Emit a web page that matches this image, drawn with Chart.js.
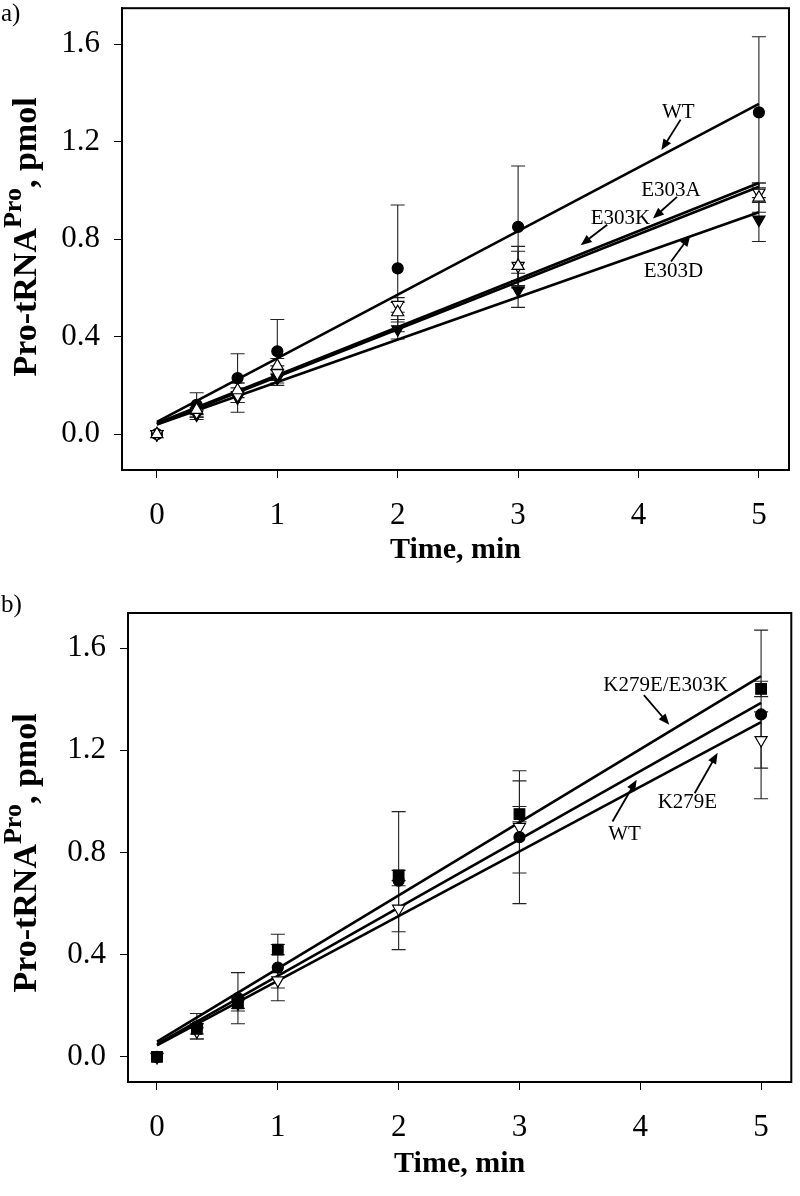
<!DOCTYPE html>
<html><head><meta charset="utf-8">
<script src="https://cdn.jsdelivr.net/npm/chart.js@4"></script>
<style>
html,body{margin:0;padding:0;background:#fff;}
#wrap{position:relative;width:800px;height:1196px;overflow:hidden;}
.box{position:absolute;left:0;width:800px;}
</style></head><body>
<div id="wrap">
<div class="box" style="top:0;height:575px"><canvas id="ca" width="800" height="575"></canvas></div>
<div class="box" style="top:575px;height:621px"><canvas id="cb" width="800" height="621"></canvas></div>
</div>
<script>
// ---------- data ----------
const times = [0, 0.33, 0.67, 1, 2, 3, 5];
const fitX = [0, 5];
const xTicks = [0, 1, 2, 3, 4, 5];
const yTicks = [0, 0.4, 0.8, 1.2, 1.6];

// panel a
const aWT      = [0, 0.12, 0.23, 0.34, 0.68, 0.85, 1.32];
const aWTErr   = [0, 0.05, 0.10, 0.13, 0.26, 0.25, 0.31];
const aE303A   = [0, 0.10, 0.18, 0.28, 0.50, 0.69, 0.97];
const aE303AErr= [0, 0.02, 0.03, 0.03, 0.04, 0.08, 0.06];
const aE303K   = [0, 0.09, 0.16, 0.25, 0.53, 0.69, 0.99];
const aE303KErr= [0, 0.02, 0.03, 0.03, 0.03, 0.06, 0.04];
const aE303D   = [0, 0.08, 0.15, 0.23, 0.43, 0.59, 0.88];
const aE303DErr= [0, 0.02, 0.06, 0.03, 0.04, 0.07, 0.09];
const aFitWT    = [0.05, 1.355];
const aFitE303A = [0.045, 1.03];
const aFitE303K = [0.04, 1.015];
const aFitE303D = [0.04, 0.91];

// panel b
const bWT        = [0, 0.12, 0.23, 0.35, 0.69, 0.86, 1.34];
const bWTErr     = [0, 0.05, 0.10, 0.13, 0.27, 0.26, 0.33];
const bDouble    = [0, 0.11, 0.21, 0.42, 0.71, 0.95, 1.44];
const bDoubleErr = [0, 0.02, 0.02, 0.02, 0.02, 0.03, 0.03];
const bK279E     = [0, 0.10, 0.21, 0.30, 0.58, 0.90, 1.24];
const bK279EErr  = [0, 0.03, 0.03, 0.03, 0.09, 0.18, 0.11];
const bFitDouble = [0.06, 1.49];
const bFitWT     = [0.05, 1.385];
const bFitK279E  = [0.045, 1.31];

// annotation labels (text, label anchor, arrow start, arrow tip) in data units
const aNotes = [
  {t:'WT',    at:[4.33,1.32], from:[4.35,1.29], to:[4.19,1.165]},
  {t:'E303A', at:[4.27,1.00], from:[4.32,0.973], to:[4.12,0.885]},
  {t:'E303K', at:[3.85,0.885], from:[3.74,0.859], to:[3.52,0.775]},
  {t:'E303D', at:[4.29,0.668], from:[4.27,0.708], to:[4.43,0.815]}
];
const bNotes = [
  {t:'K279E/E303K', at:[4.21,1.452], from:[4.03,1.416], to:[4.24,1.30]},
  {t:'WT',          at:[3.87,0.869], from:[3.77,0.921], to:[3.97,1.085]},
  {t:'K279E',       at:[4.39,0.995], from:[4.45,1.032], to:[4.64,1.19]}
];

const SERIF = '"Liberation Serif", "Times New Roman", serif';

function pts(xs, ys){ return xs.map((x,i)=>({x:x, y:ys[i]})); }

function markerDs(label, ys, style, filled, rot, r){
  return {type:'scatter', label, data: pts(times, ys), pointStyle: style,
    pointRadius: r, pointRotation: rot||0, pointBorderWidth: 1.2,
    pointBackgroundColor: filled ? '#000' : '#fff', pointBorderColor:'#000',
    showLine:false, order: 1};
}
function fitDs(label, ys){
  return {type:'line', label, data: pts(fitX, ys), borderColor:'#000',
    borderWidth: 2.6, pointRadius:0, fill:false, tension:0, order: 2};
}

const errPlugin = {
  id:'errbars',
  beforeDatasetsDraw(chart){
    const {ctx, scales:{x, y}} = chart;
    const series = chart.options.plugins.errbars.series;
    ctx.save();
    ctx.strokeStyle = '#222'; ctx.lineWidth = 1.1;
    series.forEach(s=>{
      times.forEach((t,i)=>{
        const e = s.err[i]; if(!e) return;
        const px = x.getPixelForValue(t);
        const y1 = y.getPixelForValue(s.val[i]+e), y2 = y.getPixelForValue(s.val[i]-e);
        ctx.beginPath();
        ctx.moveTo(px, y1); ctx.lineTo(px, y2);
        ctx.moveTo(px-7, y1); ctx.lineTo(px+7, y1);
        ctx.moveTo(px-7, y2); ctx.lineTo(px+7, y2);
        ctx.stroke();
      });
    });
    ctx.restore();
  }
};

const decorPlugin = {
  id:'decor',
  afterDraw(chart){
    const o = chart.options.plugins.decor;
    const {ctx, chartArea:ca, scales:{x, y}} = chart;
    ctx.save();
    // frame
    ctx.strokeStyle = '#000'; ctx.lineWidth = 2;
    ctx.strokeRect(ca.left, ca.top, ca.right-ca.left, ca.bottom-ca.top);
    // panel letter
    ctx.fillStyle = '#000';
    ctx.font = '25px ' + SERIF;
    ctx.textAlign = 'left'; ctx.textBaseline = 'middle';
    ctx.fillText(o.letter, o.letterX, o.letterY);
    // y title with superscript
    const big = 'bold 34px ' + SERIF, small = 'bold 26px ' + SERIF;
    const parts = [['Pro-tRNA', big, 0], ['Pro', small, -13], [', pmol', big, 0]];
    let total = 0;
    parts.forEach(p=>{ ctx.font = p[1]; p.push(ctx.measureText(p[0]).width); total += p[3]; });
    ctx.translate(o.yTitleX, o.yTitleCY);
    ctx.rotate(-Math.PI/2);
    ctx.textBaseline = 'middle'; ctx.textAlign = 'left';
    let cx = -total/2;
    parts.forEach(p=>{ ctx.font = p[1]; ctx.fillText(p[0], cx, p[2]); cx += p[3]; });
    ctx.setTransform(1,0,0,1,0,0);
    // annotations with arrows
    ctx.font = '21px ' + SERIF; ctx.textAlign = 'center'; ctx.textBaseline = 'middle';
    o.notes.forEach(n=>{
      ctx.fillStyle = '#000';
      ctx.fillText(n.t, x.getPixelForValue(n.at[0]), y.getPixelForValue(n.at[1]));
      const x1 = x.getPixelForValue(n.from[0]), y1 = y.getPixelForValue(n.from[1]);
      const x2 = x.getPixelForValue(n.to[0]), y2 = y.getPixelForValue(n.to[1]);
      const ang = Math.atan2(y2-y1, x2-x1), L = 11, W = 4.5;
      ctx.strokeStyle = '#000'; ctx.lineWidth = 1.8;
      ctx.beginPath(); ctx.moveTo(x1,y1);
      ctx.lineTo(x2 - Math.cos(ang)*L*0.8, y2 - Math.sin(ang)*L*0.8); ctx.stroke();
      ctx.beginPath();
      ctx.moveTo(x2, y2);
      ctx.lineTo(x2 - Math.cos(ang)*L - Math.sin(ang)*W, y2 - Math.sin(ang)*L + Math.cos(ang)*W);
      ctx.lineTo(x2 - Math.cos(ang)*L + Math.sin(ang)*W, y2 - Math.sin(ang)*L - Math.cos(ang)*W);
      ctx.closePath(); ctx.fill();
    });
    ctx.restore();
  }
};

function makeChart(id, cfg){
  const tickFont = {family: SERIF, size: 31};
  return new Chart(document.getElementById(id), {
    data: {datasets: cfg.datasets},
    options: {
      responsive:false, animation:false, devicePixelRatio:1,
      layout:{padding:{top: cfg.padTop, right: cfg.padRight, left:0, bottom:0}},
      plugins:{legend:{display:false}, tooltip:{enabled:false},
        errbars:{series: cfg.err},
        decor:{letter: cfg.letter, letterX: cfg.letterX, letterY: cfg.letterY, yTitleX: 27, yTitleCY: cfg.yTitleCY, notes: cfg.notes}},
      scales:{
        x:{type:'linear', min: cfg.xMin, max: cfg.xMax,
          afterBuildTicks: s=>{ s.ticks = xTicks.map(v=>({value:v})); },
          afterFit: s=>{ s.height = cfg.xAxisH; s.paddingLeft = 0; s.paddingRight = 0; },
          ticks:{font: tickFont, color:'#000', padding: 19, callback: v=>String(v)},
          grid:{display:true, drawOnChartArea:false, drawTicks:true, tickLength:8, color:'#000', lineWidth:1},
          border:{display:true, color:'#000', width:2},
          title:{display:true, text:'Time, min', color:'#000', font:{family:SERIF, size:30, weight:'bold', lineHeight:1}, padding:{top:0, bottom: cfg.xTitlePadB}}
        },
        y:{type:'linear', min: cfg.yMin, max: cfg.yMax,
          afterBuildTicks: s=>{ s.ticks = yTicks.map(v=>({value:v})); },
          afterFit: s=>{ s.width = cfg.yAxisW; s.paddingTop = 0; s.paddingBottom = 0; },
          ticks:{font: tickFont, color:'#000', padding: 14, callback: v=>Number(v).toFixed(1)},
          grid:{display:true, drawOnChartArea:false, drawTicks:true, tickLength:8, color:'#000', lineWidth:1},
          border:{display:true, color:'#000', width:2}
        }
      }
    },
    plugins:[errPlugin, decorPlugin]
  });
}

// marker datasets: lower index is drawn on top
makeChart('ca', {
  letter:'a)', letterX:1, letterY:14, yTitleCY:237,
  padTop:5, padRight:11, yAxisW:122, xAxisH:105, xTitlePadB:10,
  xMin:-0.29, xMax:5.25, yMin:-0.147, yMax:1.747,
  notes: aNotes,
  err:[{val:aWT, err:aWTErr},{val:aE303A, err:aE303AErr},{val:aE303K, err:aE303KErr},{val:aE303D, err:aE303DErr}],
  datasets:[
    markerDs('E303A', aE303A, 'triangle', false, 0, 7),
    markerDs('E303K', aE303K, 'triangle', false, 180, 7),
    markerDs('E303D', aE303D, 'triangle', true, 180, 7),
    markerDs('WT', aWT, 'circle', true, 0, 5.5),
    fitDs('WT fit', aFitWT), fitDs('E303A fit', aFitE303A), fitDs('E303K fit', aFitE303K), fitDs('E303D fit', aFitE303D)
  ]
});

makeChart('cb', {
  letter:'b)', letterX:1, letterY:30, yTitleCY:278,
  padTop:38, padRight:4, yAxisW:128, xAxisH:114, xTitlePadB:17,
  xMin:-0.24, xMax:5.25, yMin:-0.098, yMax:1.737,
  notes: bNotes,
  err:[{val:bWT, err:bWTErr},{val:bDouble, err:bDoubleErr},{val:bK279E, err:bK279EErr}],
  datasets:[
    markerDs('K279E/E303K', bDouble, 'rect', true, 0, 7.5),
    markerDs('WT', bWT, 'circle', true, 0, 5.5),
    markerDs('K279E', bK279E, 'triangle', false, 180, 7),
    fitDs('K279E/E303K fit', bFitDouble), fitDs('WT fit', bFitWT), fitDs('K279E fit', bFitK279E)
  ]
});
</script>
</body></html>
